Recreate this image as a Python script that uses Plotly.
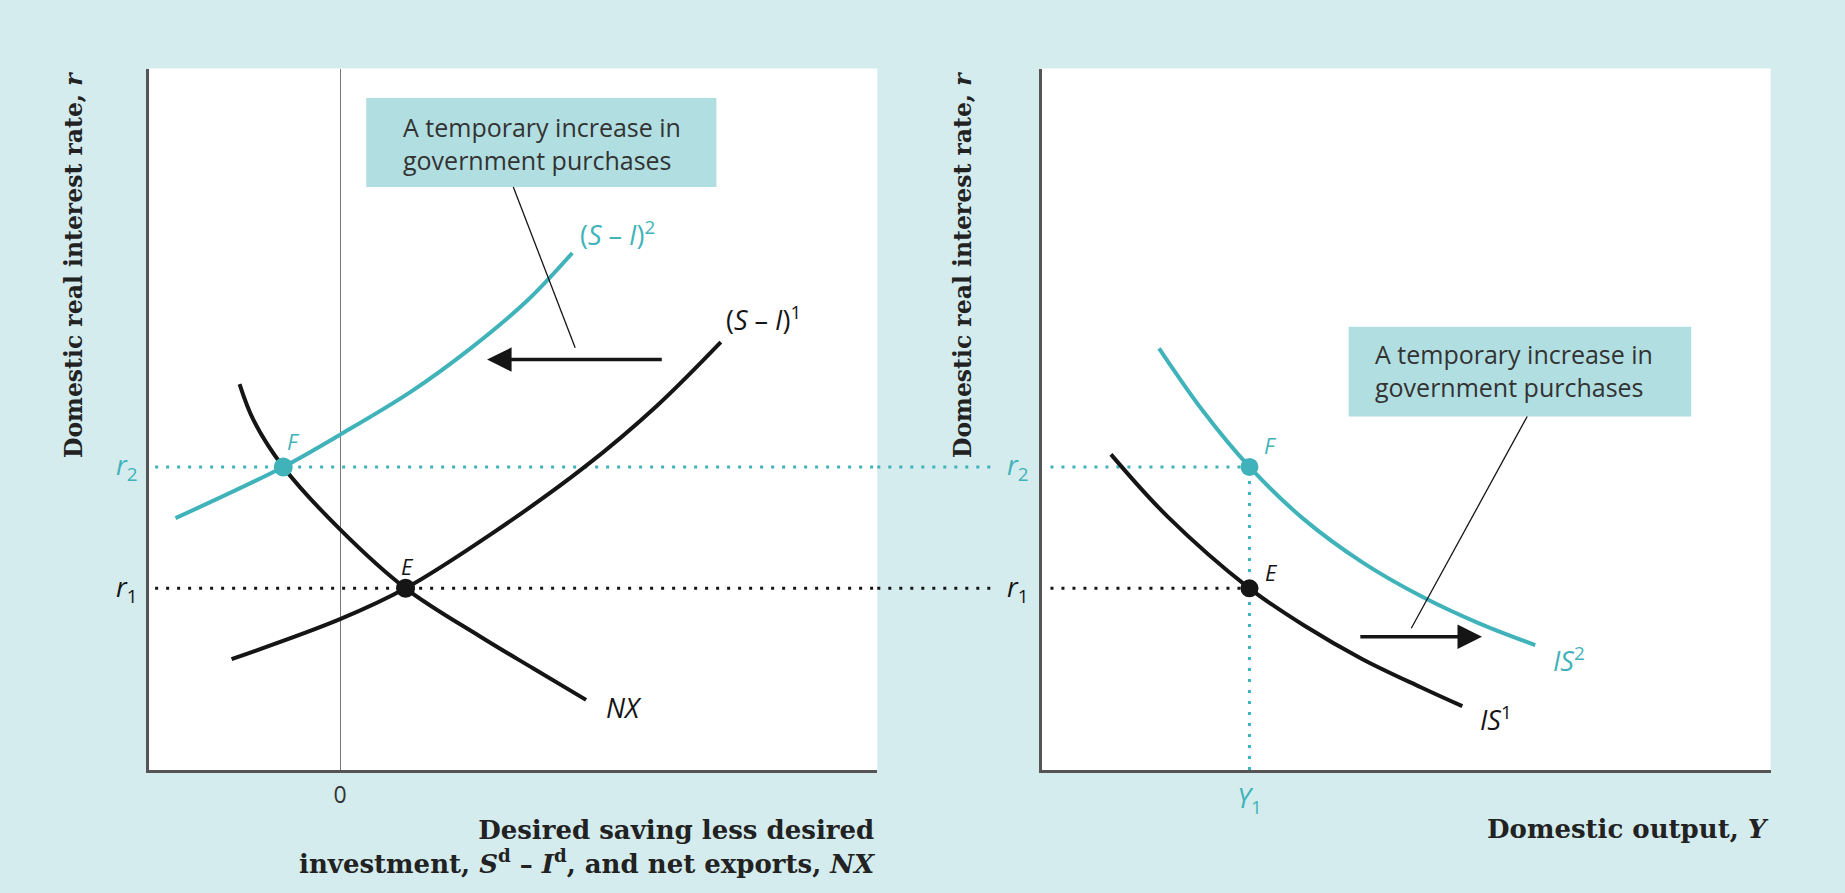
import plotly.graph_objects as go

# ---------------- data ----------------
# Left panel: x = desired saving less desired investment / net exports (0 = zero line)
si1_x = [-14.9, 0.0, 9.0, 21.0, 33.6, 43.5, 52.3]
si1_y = [15.8, 21.5, 25.9, 33.8, 43.2, 51.9, 61.0]
si2_x = [-22.6, -7.8, 0.0, 9.7, 17.8, 25.8, 31.9]
si2_y = [35.9, 43.2, 47.8, 53.9, 60.0, 67.0, 73.7]
nx_x = [-13.8, -11.9, -7.8, 0.0, 9.0, 19.3, 26.5, 33.8]
nx_y = [55.0, 49.9, 43.2, 34.3, 25.9, 19.0, 14.5, 10.0]

# Right panel: x = domestic output
is1_x = [9.5, 17.2, 28.5, 36.0, 44.0, 52.0, 57.7]
is1_y = [45.0, 36.2, 25.9, 20.6, 15.8, 11.8, 9.1]
is2_x = [16.1, 22.1, 28.5, 35.9, 44.0, 52.0, 60.0, 67.7]
is2_y = [60.1, 51.2, 43.2, 35.8, 29.6, 24.8, 20.9, 17.8]

r1 = 25.9
r2 = 43.2
E_left_x = 9.0
F_left_x = -7.8
Y1 = 28.5

left_xrange = [-26.2, 73.8]
yrange = [0, 100]
right_xrange = [0, 100]

# ---------------- styles ----------------
BG = "#d4ecee"
BOX = "#b1dee1"
TEAL = "#3fb3b9"
BLACK = "#151515"
AXIS = "#555555"
TXT = "#333333"
SANS = "Open Sans"
SERIF = "DejaVu Serif"
LW = 4
DOT = "3px,8px"

W, H = 1845, 893
def px(xp):
    return xp / W
def py(yp):
    return (H - yp) / H

LDOM = [px(149.3), px(877.3)]
RDOM = [px(1041.7), px(1770.7)]
YDOM = [py(770), py(68.5)]

fig = go.Figure()

# dotted guide lines inside panels (drawn first -> beneath curves)
fig.add_trace(go.Scatter(x=[left_xrange[0] + 0.8, left_xrange[1]], y=[r2, r2], mode="lines",
                         line=dict(color=TEAL, width=3, dash=DOT), xaxis="x", yaxis="y", hoverinfo="skip"))
fig.add_trace(go.Scatter(x=[left_xrange[0] + 0.8, left_xrange[1]], y=[r1, r1], mode="lines",
                         line=dict(color=BLACK, width=3, dash=DOT), xaxis="x", yaxis="y", hoverinfo="skip"))
fig.add_trace(go.Scatter(x=[1.2, Y1], y=[r2, r2], mode="lines",
                         line=dict(color=TEAL, width=3, dash=DOT), xaxis="x2", yaxis="y2", hoverinfo="skip"))
fig.add_trace(go.Scatter(x=[1.2, Y1], y=[r1, r1], mode="lines",
                         line=dict(color=BLACK, width=3, dash=DOT), xaxis="x2", yaxis="y2", hoverinfo="skip"))
fig.add_trace(go.Scatter(x=[Y1, Y1], y=[0, r2], mode="lines",
                         line=dict(color=TEAL, width=3, dash=DOT), xaxis="x2", yaxis="y2", hoverinfo="skip"))

# curves
def curve(x, y, color, xa, ya):
    fig.add_trace(go.Scatter(x=x, y=y, mode="lines", line=dict(color=color, width=LW, shape="spline", smoothing=1.0),
                             xaxis=xa, yaxis=ya, hoverinfo="skip"))

curve(si2_x, si2_y, TEAL, "x", "y")
curve(si1_x, si1_y, BLACK, "x", "y")
curve(nx_x, nx_y, BLACK, "x", "y")
curve(is2_x, is2_y, TEAL, "x2", "y2")
curve(is1_x, is1_y, BLACK, "x2", "y2")

# equilibrium points
fig.add_trace(go.Scatter(x=[F_left_x], y=[r2], mode="markers", marker=dict(color=TEAL, size=19),
                         xaxis="x", yaxis="y", hoverinfo="skip"))
fig.add_trace(go.Scatter(x=[E_left_x], y=[r1], mode="markers", marker=dict(color=BLACK, size=19),
                         xaxis="x", yaxis="y", hoverinfo="skip"))
fig.add_trace(go.Scatter(x=[Y1], y=[r2], mode="markers", marker=dict(color=TEAL, size=18),
                         xaxis="x2", yaxis="y2", hoverinfo="skip"))
fig.add_trace(go.Scatter(x=[Y1], y=[r1], mode="markers", marker=dict(color=BLACK, size=18),
                         xaxis="x2", yaxis="y2", hoverinfo="skip"))

shapes = []
# dotted segments crossing the gap between panels
shapes.append(dict(type="line", xref="paper", yref="y", x0=LDOM[1], x1=px(995), y0=r2, y1=r2,
                   line=dict(color=TEAL, width=3, dash=DOT), layer="above"))
shapes.append(dict(type="line", xref="paper", yref="y", x0=LDOM[1], x1=px(995), y0=r1, y1=r1,
                   line=dict(color=BLACK, width=3, dash=DOT), layer="above"))
# annotation boxes
shapes.append(dict(type="rect", xref="x", yref="y", x0=3.6, x1=51.7, y0=83.1, y1=95.8,
                   fillcolor=BOX, line=dict(width=0), layer="below"))
shapes.append(dict(type="rect", xref="x2", yref="y2", x0=42.1, x1=89.1, y0=50.4, y1=63.2,
                   fillcolor=BOX, line=dict(width=0), layer="below"))
# pointer lines
shapes.append(dict(type="line", xref="x", yref="y", x0=23.8, y0=83.1, x1=32.3, y1=60.2,
                   line=dict(color=BLACK, width=1.3)))
shapes.append(dict(type="line", xref="x2", yref="y2", x0=66.6, y0=50.4, x1=50.7, y1=20.2,
                   line=dict(color=BLACK, width=1.3)))

ann = []
box_text = "A temporary increase in<br>government purchases"
ann.append(dict(xref="x", yref="y", x=8.4, y=89.3, text=box_text, showarrow=False, xanchor="left",
                yanchor="middle", align="left", font=dict(family=SANS, size=25, color=TXT)))
ann.append(dict(xref="x2", yref="y2", x=45.4, y=56.9, text=box_text, showarrow=False, xanchor="left",
                yanchor="middle", align="left", font=dict(family=SANS, size=25, color=TXT)))

# shift arrows
ann.append(dict(xref="x", yref="y", axref="x", ayref="y", x=20.2, y=58.5, ax=44.4, ay=58.5, text="",
                showarrow=True, arrowhead=2, arrowsize=1.4, arrowwidth=3.5, arrowcolor=BLACK))
ann.append(dict(xref="x2", yref="y2", axref="x2", ayref="y2", x=60.4, y=19.0, ax=43.5, ay=19.0, text="",
                showarrow=True, arrowhead=2, arrowsize=1.4, arrowwidth=3.5, arrowcolor=BLACK))

# curve labels
def lab(xr, yr, x, y, text, color, size=27, xanchor="left", xshift=0, yshift=0):
    ann.append(dict(xref=xr, yref=yr, x=x, y=y, text=text, showarrow=False, xanchor=xanchor, yanchor="middle",
                    xshift=xshift, yshift=yshift, font=dict(family=SANS, size=size, color=color)))

lab("x", "y", 32.7, 76.5, "(<i>S</i> – <i>I</i>)<sup>2</sup>", TEAL)
lab("x", "y", 52.8, 64.4, "(<i>S</i> – <i>I</i>)<sup>1</sup>", BLACK)
lab("x", "y", 36.3, 8.9, "<i>NX</i>", BLACK)
lab("x2", "y2", 69.9, 15.8, "<i>IS</i><sup>2</sup>", TEAL)
lab("x2", "y2", 59.8, 7.3, "<i>IS</i><sup>1</sup>", BLACK)

# point labels
lab("x", "y", F_left_x, r2, "<i>F</i>", TEAL, size=22, xanchor="center", xshift=10, yshift=26)
lab("x", "y", E_left_x, r1, "<i>E</i>", BLACK, size=22, xanchor="center", xshift=2, yshift=22)
lab("x2", "y2", Y1, r2, "<i>F</i>", TEAL, size=22, xanchor="center", xshift=21, yshift=22)
lab("x2", "y2", Y1, r1, "<i>E</i>", BLACK, size=22, xanchor="center", xshift=22, yshift=16)

# r labels outside the axes
for xpx in (126, 1018):
    lab("paper", "y", px(xpx), r2, "<i>r</i><sub>2</sub>", TEAL, size=27, xanchor="center")
    lab("paper", "y", px(xpx), r1, "<i>r</i><sub>1</sub>", BLACK, size=27, xanchor="center")

# axis titles
ytitle = "<b>Domestic real interest rate, <i>r</i></b>"
for xpx in (74, 963):
    ann.append(dict(xref="paper", yref="paper", x=px(xpx), y=py(70), text=ytitle, textangle=-90,
                    showarrow=False, xanchor="center", yanchor="top",
                    font=dict(family=SERIF, size=23.5, color="#222222")))
ann.append(dict(xref="paper", yref="paper", x=px(878), y=py(847), xanchor="right", yanchor="middle", align="right",
                text="<b>Desired saving less desired<br>investment, <i>S</i><sup>d</sup> – <i>I</i><sup>d</sup>, and net exports, <i>NX</i></b>",
                showarrow=False, font=dict(family=SERIF, size=26, color="#222222")))
ann.append(dict(xref="paper", yref="paper", x=px(1771), y=py(829), xanchor="right", yanchor="middle",
                text="<b>Domestic output, <i>Y</i></b>",
                showarrow=False, font=dict(family=SERIF, size=26, color="#222222")))

axis_common = dict(showgrid=False, showline=True, linecolor=AXIS, linewidth=2.5, mirror=False, ticks="",
                   fixedrange=True)

fig.update_layout(
    width=W, height=H, margin=dict(l=0, r=0, t=0, b=0),
    paper_bgcolor=BG, plot_bgcolor="white", showlegend=False,
    xaxis=dict(domain=LDOM, range=left_xrange, anchor="y", zeroline=True, zerolinecolor="#777777",
               zerolinewidth=1.2, tickvals=[0], ticktext=["0"], ticklabelstandoff=3,
               tickfont=dict(family=SANS, size=23, color=TXT), **axis_common),
    yaxis=dict(domain=YDOM, range=yrange, anchor="x", zeroline=False, showticklabels=False, **axis_common),
    xaxis2=dict(domain=RDOM, range=right_xrange, anchor="y2", zeroline=False, tickvals=[Y1],
                ticktext=["<i>Y</i><sub>1</sub>"], ticklabelstandoff=3,
                tickfont=dict(family=SANS, size=27, color=TEAL), **axis_common),
    yaxis2=dict(domain=YDOM, range=yrange, anchor="x2", zeroline=False, showticklabels=False, **axis_common),
    shapes=shapes, annotations=ann,
)

fig.write_html("out.html", config={"displayModeBar": False},
               post_script="document.body.style.margin='0';document.body.style.overflow='hidden';")
